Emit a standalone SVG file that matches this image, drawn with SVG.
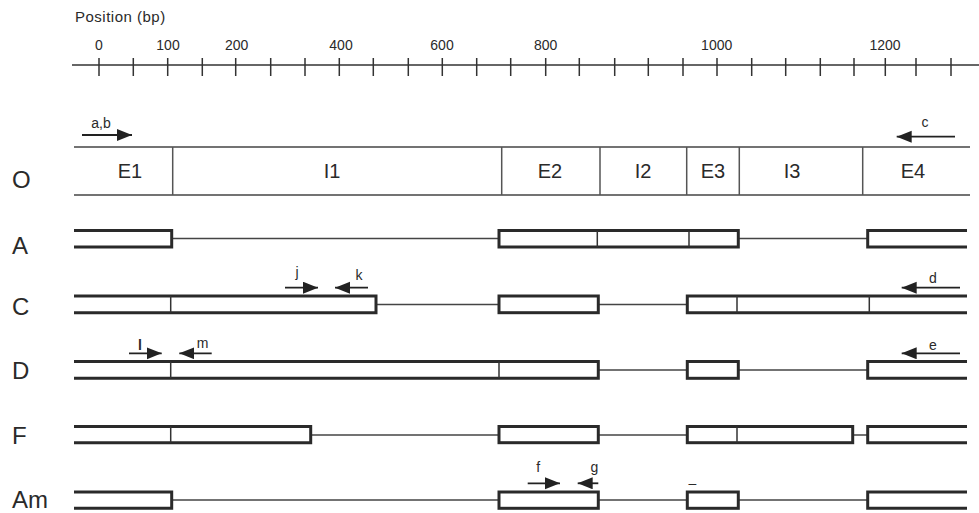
<svg xmlns="http://www.w3.org/2000/svg" width="979" height="513" viewBox="0 0 979 513">
<defs>
<style>
text{font-family:"Liberation Sans",Arial,sans-serif;fill:#2a2a2a}
.tick{font-size:14px;text-anchor:middle}
.row{font-size:24px}
.seg{font-size:20px;text-anchor:middle}
.lbl{font-size:14px;text-anchor:middle}
.axis{stroke:#333;stroke-width:1.5;fill:none}
.oline{stroke:#444;stroke-width:1.5;fill:none}
.odiv{stroke:#555;stroke-width:1.5}
.box{stroke:#2a2a2a;stroke-width:3;fill:#fff}
.div{stroke:#333;stroke-width:1.5}
.thin{stroke:#444;stroke-width:1.5}
.arr{stroke:#222;stroke-width:1.8;fill:none;marker-end:url(#ah)}
</style>
<marker id="ah" markerUnits="userSpaceOnUse" markerWidth="16" markerHeight="13" refX="15" refY="6" orient="auto">
<path d="M0,0 L15,6 L0,12 Z" fill="#222"/>
</marker>
</defs>
<rect width="979" height="513" fill="#fff"/>

<g id="ruler">
<text x="75" y="22" style="font-size:15px;letter-spacing:0.5px">Position (bp)</text>
<line class="axis" x1="72" y1="65" x2="979" y2="65"/>
<path class="axis" d="M99,58V76M133.3,58V76M167.7,58V76M202.3,58V76M235.7,58V76M270.7,58V76M305,58V76M339.3,58V76M373.3,58V76M408.3,58V76M442.3,58V76M476.7,58V76M510.7,58V76M545.7,58V76M579.3,58V76M614.7,58V76M648.3,58V76M683,58V76M717,58V76M751.7,58V76M785.7,58V76M820.3,58V76M854,58V76M885.3,58V76M916,58V76M951,58V76"/>
<text class="tick" x="99" y="50">0</text>
<text class="tick" x="168" y="50">100</text>
<text class="tick" x="236.7" y="50">200</text>
<text class="tick" x="341" y="50">400</text>
<text class="tick" x="442" y="50">600</text>
<text class="tick" x="545.7" y="50">800</text>
<text class="tick" x="716.7" y="50">1000</text>
<text class="tick" x="885" y="50">1200</text>
</g>

<g id="row-O">
<text class="row" x="12" y="188">O</text>
<line class="oline" x1="74" y1="147" x2="970" y2="147"/>
<line class="oline" x1="74" y1="195" x2="970" y2="195"/>
<path class="odiv" d="M172.7,147V195M501.7,147V195M600,147V195M686.7,147V195M739.3,147V195M862.7,147V195"/>
<text class="seg" x="130" y="178">E1</text>
<text class="seg" x="332" y="178">I1</text>
<text class="seg" x="550" y="178">E2</text>
<text class="seg" x="643" y="178">I2</text>
<text class="seg" x="713" y="178">E3</text>
<text class="seg" x="792" y="178">I3</text>
<text class="seg" x="913" y="178">E4</text>
</g>

<g id="connectors">
<line class="thin" x1="171.7" y1="238.5" x2="499" y2="238.5"/>
<line class="thin" x1="738.3" y1="238.5" x2="867.7" y2="238.5"/>
<line class="thin" x1="376" y1="304.5" x2="499" y2="304.5"/>
<line class="thin" x1="598.3" y1="304.5" x2="687.3" y2="304.5"/>
<line class="thin" x1="598.3" y1="370" x2="687.3" y2="370"/>
<line class="thin" x1="738.3" y1="370" x2="867.7" y2="370"/>
<line class="thin" x1="310.7" y1="435" x2="499" y2="435"/>
<line class="thin" x1="598.3" y1="435" x2="687.3" y2="435"/>
<line class="thin" x1="852.7" y1="435" x2="867.7" y2="435"/>
<line class="thin" x1="171.7" y1="500" x2="499" y2="500"/>
<line class="thin" x1="598.3" y1="500" x2="687.3" y2="500"/>
<line class="thin" x1="738.3" y1="500" x2="867.7" y2="500"/>
<line class="arr" x1="82" y1="135" x2="132" y2="135"/>
<line class="arr" x1="955" y1="136.7" x2="896.7" y2="136.7"/>
<line class="arr" x1="285" y1="287.7" x2="318" y2="287.7"/>
<line class="arr" x1="368" y1="287.7" x2="335" y2="287.7"/>
<line class="arr" x1="960" y1="287.7" x2="901.7" y2="287.7"/>
<line class="arr" x1="129" y1="353.3" x2="161.7" y2="353.3"/>
<line class="arr" x1="211.7" y1="353.3" x2="179.3" y2="353.3"/>
<line class="arr" x1="960" y1="353.3" x2="901.7" y2="353.3"/>
<line class="arr" x1="527.7" y1="483.3" x2="560" y2="483.3"/>
<line class="arr" x1="598.3" y1="483.3" x2="577.7" y2="483.3"/>
<text class="lbl" x="101" y="128">a,b</text>
<text class="lbl" x="925" y="127">c</text>
<text class="lbl" x="297" y="277">j</text>
<text class="lbl" x="359" y="280">k</text>
<text class="lbl" x="933" y="283">d</text>
<text class="lbl" x="140" y="350" style="font-weight:bold">l</text>
<text class="lbl" x="202.7" y="348">m</text>
<text class="lbl" x="933" y="350">e</text>
<text class="lbl" x="538.3" y="472">f</text>
<text class="lbl" x="594.3" y="472">g</text>
<text class="lbl" x="692.5" y="488">–</text>
</g>

<g id="row-A">
<text class="row" x="12" y="254">A</text>
<path class="box" d="M74,230.5H171.7V247H74"/>
<rect class="box" x="499" y="230.5" width="239.3" height="16.5"/>
<path class="div" d="M597.3,231V247M689,231V247"/>
<path class="box" d="M967,230.5H867.7V247H967"/>
</g>

<g id="row-C">
<text class="row" x="12" y="315">C</text>
<path class="box" d="M74,296H376V312.7H74"/>
<path class="div" d="M170.7,296V312.7"/>
<rect class="box" x="499" y="296" width="99.3" height="16.7"/>
<path class="box" d="M967,296H687.3V312.7H967"/>
<path class="div" d="M737,296V312.7M869.3,296V312.7"/>
</g>

<g id="row-D">
<text class="row" x="12" y="379">D</text>
<path class="box" d="M74,361.5H598.3V378.3H74"/>
<path class="div" d="M170.7,361.5V378.3M499,361.5V378.3"/>
<rect class="box" x="687.3" y="361.5" width="51" height="16.8"/>
<path class="box" d="M967,361.5H867.7V378.3H967"/>
</g>

<g id="row-F">
<text class="row" x="12" y="444">F</text>
<path class="box" d="M74,426.5H310.7V442.7H74"/>
<path class="div" d="M170.7,426.5V442.7"/>
<rect class="box" x="499" y="426.5" width="99.3" height="16.2"/>
<rect class="box" x="687.3" y="426.5" width="165.4" height="16.2"/>
<path class="div" d="M737,426.5V442.7"/>
<path class="box" d="M967,426.5H867.7V442.7H967"/>
</g>

<g id="row-Am">
<text class="row" x="12" y="508">Am</text>
<path class="box" d="M74,492H171.7V508.3H74"/>
<rect class="box" x="499" y="492" width="99.3" height="16.3"/>
<rect class="box" x="687.3" y="492" width="51" height="16.3"/>
<path class="box" d="M967,492H867.7V508.3H967"/>
</g>
</svg>
